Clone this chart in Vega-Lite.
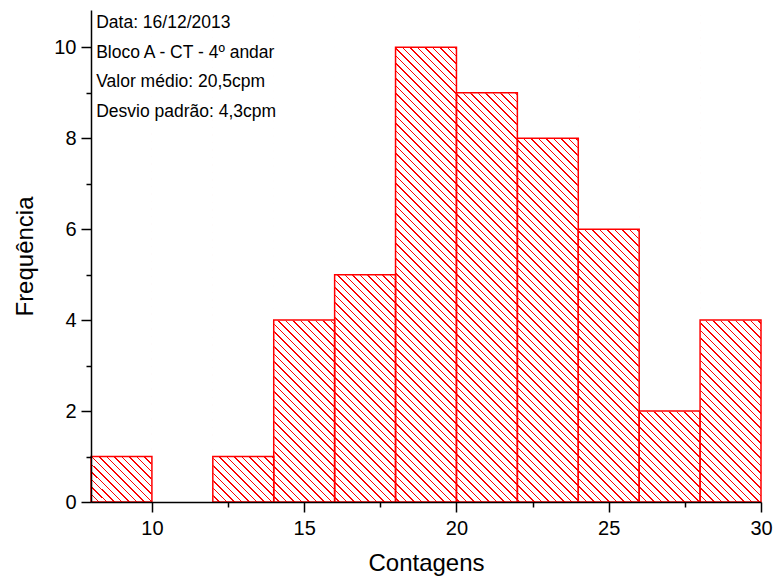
{
  "$schema": "https://vega.github.io/schema/vega-lite/v6.json",
  "width": 670,
  "height": 492,
  "autosize": {"type": "none"},
  "padding": {"left": 91, "top": 10, "right": 15, "bottom": 79},
  "background": "white",
  "config": {
    "view": {"stroke": null},
    "axis": {
      "grid": false,
      "domain": true,
      "domainColor": "black",
      "domainWidth": 1.5,
      "tickColor": "black",
      "tickWidth": 1.5,
      "labelFont": "Liberation Sans",
      "labelFontSize": 20,
      "labelColor": "black",
      "titleFont": "Liberation Sans",
      "titleFontSize": 24,
      "titleFontWeight": "normal",
      "titleColor": "black",
      "zindex": 1
    }
  },
  "datasets": {
    "bins": [
      {"bin_start": 8, "bin_end": 10, "count": 1},
      {"bin_start": 10, "bin_end": 12, "count": 0},
      {"bin_start": 12, "bin_end": 14, "count": 1},
      {"bin_start": 14, "bin_end": 16, "count": 4},
      {"bin_start": 16, "bin_end": 18, "count": 5},
      {"bin_start": 18, "bin_end": 20, "count": 10},
      {"bin_start": 20, "bin_end": 22, "count": 9},
      {"bin_start": 22, "bin_end": 24, "count": 8},
      {"bin_start": 24, "bin_end": 26, "count": 6},
      {"bin_start": 26, "bin_end": 28, "count": 2},
      {"bin_start": 28, "bin_end": 30, "count": 4}
    ]
  },
  "layer": [
    {
      "description": "Diagonal hatch pattern behind the bars (a striped linear gradient)",
      "data": {"values": [{}]},
      "mark": {
        "type": "rect",
        "clip": true,
        "stroke": null,
        "fill": {
          "gradient": "linear",
          "x1": 0, "y1": 1, "x2": 1.101672, "y2": 0.128526,
          "stops": [
            {"offset":0,"color":"#fff"},{"offset":0,"color":"#f00"},{"offset":0.00125,"color":"#f00"},{"offset":0.00125,"color":"#fff"},
            {"offset":0.00625,"color":"#fff"},{"offset":0.00625,"color":"#f00"},{"offset":0.0075,"color":"#f00"},{"offset":0.0075,"color":"#fff"},
            {"offset":0.0125,"color":"#fff"},{"offset":0.0125,"color":"#f00"},{"offset":0.01375,"color":"#f00"},{"offset":0.01375,"color":"#fff"},
            {"offset":0.01875,"color":"#fff"},{"offset":0.01875,"color":"#f00"},{"offset":0.02,"color":"#f00"},{"offset":0.02,"color":"#fff"},
            {"offset":0.025,"color":"#fff"},{"offset":0.025,"color":"#f00"},{"offset":0.02625,"color":"#f00"},{"offset":0.02625,"color":"#fff"},
            {"offset":0.03125,"color":"#fff"},{"offset":0.03125,"color":"#f00"},{"offset":0.0325,"color":"#f00"},{"offset":0.0325,"color":"#fff"},
            {"offset":0.0375,"color":"#fff"},{"offset":0.0375,"color":"#f00"},{"offset":0.03875,"color":"#f00"},{"offset":0.03875,"color":"#fff"},
            {"offset":0.04375,"color":"#fff"},{"offset":0.04375,"color":"#f00"},{"offset":0.045,"color":"#f00"},{"offset":0.045,"color":"#fff"},
            {"offset":0.05,"color":"#fff"},{"offset":0.05,"color":"#f00"},{"offset":0.05125,"color":"#f00"},{"offset":0.05125,"color":"#fff"},
            {"offset":0.05625,"color":"#fff"},{"offset":0.05625,"color":"#f00"},{"offset":0.0575,"color":"#f00"},{"offset":0.0575,"color":"#fff"},
            {"offset":0.0625,"color":"#fff"},{"offset":0.0625,"color":"#f00"},{"offset":0.06375,"color":"#f00"},{"offset":0.06375,"color":"#fff"},
            {"offset":0.06875,"color":"#fff"},{"offset":0.06875,"color":"#f00"},{"offset":0.07,"color":"#f00"},{"offset":0.07,"color":"#fff"},
            {"offset":0.075,"color":"#fff"},{"offset":0.075,"color":"#f00"},{"offset":0.07625,"color":"#f00"},{"offset":0.07625,"color":"#fff"},
            {"offset":0.08125,"color":"#fff"},{"offset":0.08125,"color":"#f00"},{"offset":0.0825,"color":"#f00"},{"offset":0.0825,"color":"#fff"},
            {"offset":0.0875,"color":"#fff"},{"offset":0.0875,"color":"#f00"},{"offset":0.08875,"color":"#f00"},{"offset":0.08875,"color":"#fff"},
            {"offset":0.09375,"color":"#fff"},{"offset":0.09375,"color":"#f00"},{"offset":0.095,"color":"#f00"},{"offset":0.095,"color":"#fff"},
            {"offset":0.1,"color":"#fff"},{"offset":0.1,"color":"#f00"},{"offset":0.10125,"color":"#f00"},{"offset":0.10125,"color":"#fff"},
            {"offset":0.10625,"color":"#fff"},{"offset":0.10625,"color":"#f00"},{"offset":0.1075,"color":"#f00"},{"offset":0.1075,"color":"#fff"},
            {"offset":0.1125,"color":"#fff"},{"offset":0.1125,"color":"#f00"},{"offset":0.11375,"color":"#f00"},{"offset":0.11375,"color":"#fff"},
            {"offset":0.11875,"color":"#fff"},{"offset":0.11875,"color":"#f00"},{"offset":0.12,"color":"#f00"},{"offset":0.12,"color":"#fff"},
            {"offset":0.125,"color":"#fff"},{"offset":0.125,"color":"#f00"},{"offset":0.12625,"color":"#f00"},{"offset":0.12625,"color":"#fff"},
            {"offset":0.13125,"color":"#fff"},{"offset":0.13125,"color":"#f00"},{"offset":0.1325,"color":"#f00"},{"offset":0.1325,"color":"#fff"},
            {"offset":0.1375,"color":"#fff"},{"offset":0.1375,"color":"#f00"},{"offset":0.13875,"color":"#f00"},{"offset":0.13875,"color":"#fff"},
            {"offset":0.14375,"color":"#fff"},{"offset":0.14375,"color":"#f00"},{"offset":0.145,"color":"#f00"},{"offset":0.145,"color":"#fff"},
            {"offset":0.15,"color":"#fff"},{"offset":0.15,"color":"#f00"},{"offset":0.15125,"color":"#f00"},{"offset":0.15125,"color":"#fff"},
            {"offset":0.15625,"color":"#fff"},{"offset":0.15625,"color":"#f00"},{"offset":0.1575,"color":"#f00"},{"offset":0.1575,"color":"#fff"},
            {"offset":0.1625,"color":"#fff"},{"offset":0.1625,"color":"#f00"},{"offset":0.16375,"color":"#f00"},{"offset":0.16375,"color":"#fff"},
            {"offset":0.16875,"color":"#fff"},{"offset":0.16875,"color":"#f00"},{"offset":0.17,"color":"#f00"},{"offset":0.17,"color":"#fff"},
            {"offset":0.175,"color":"#fff"},{"offset":0.175,"color":"#f00"},{"offset":0.17625,"color":"#f00"},{"offset":0.17625,"color":"#fff"},
            {"offset":0.18125,"color":"#fff"},{"offset":0.18125,"color":"#f00"},{"offset":0.1825,"color":"#f00"},{"offset":0.1825,"color":"#fff"},
            {"offset":0.1875,"color":"#fff"},{"offset":0.1875,"color":"#f00"},{"offset":0.18875,"color":"#f00"},{"offset":0.18875,"color":"#fff"},
            {"offset":0.19375,"color":"#fff"},{"offset":0.19375,"color":"#f00"},{"offset":0.195,"color":"#f00"},{"offset":0.195,"color":"#fff"},
            {"offset":0.2,"color":"#fff"},{"offset":0.2,"color":"#f00"},{"offset":0.20125,"color":"#f00"},{"offset":0.20125,"color":"#fff"},
            {"offset":0.20625,"color":"#fff"},{"offset":0.20625,"color":"#f00"},{"offset":0.2075,"color":"#f00"},{"offset":0.2075,"color":"#fff"},
            {"offset":0.2125,"color":"#fff"},{"offset":0.2125,"color":"#f00"},{"offset":0.21375,"color":"#f00"},{"offset":0.21375,"color":"#fff"},
            {"offset":0.21875,"color":"#fff"},{"offset":0.21875,"color":"#f00"},{"offset":0.22,"color":"#f00"},{"offset":0.22,"color":"#fff"},
            {"offset":0.225,"color":"#fff"},{"offset":0.225,"color":"#f00"},{"offset":0.22625,"color":"#f00"},{"offset":0.22625,"color":"#fff"},
            {"offset":0.23125,"color":"#fff"},{"offset":0.23125,"color":"#f00"},{"offset":0.2325,"color":"#f00"},{"offset":0.2325,"color":"#fff"},
            {"offset":0.2375,"color":"#fff"},{"offset":0.2375,"color":"#f00"},{"offset":0.23875,"color":"#f00"},{"offset":0.23875,"color":"#fff"},
            {"offset":0.24375,"color":"#fff"},{"offset":0.24375,"color":"#f00"},{"offset":0.245,"color":"#f00"},{"offset":0.245,"color":"#fff"},
            {"offset":0.25,"color":"#fff"},{"offset":0.25,"color":"#f00"},{"offset":0.25125,"color":"#f00"},{"offset":0.25125,"color":"#fff"},
            {"offset":0.25625,"color":"#fff"},{"offset":0.25625,"color":"#f00"},{"offset":0.2575,"color":"#f00"},{"offset":0.2575,"color":"#fff"},
            {"offset":0.2625,"color":"#fff"},{"offset":0.2625,"color":"#f00"},{"offset":0.26375,"color":"#f00"},{"offset":0.26375,"color":"#fff"},
            {"offset":0.26875,"color":"#fff"},{"offset":0.26875,"color":"#f00"},{"offset":0.27,"color":"#f00"},{"offset":0.27,"color":"#fff"},
            {"offset":0.275,"color":"#fff"},{"offset":0.275,"color":"#f00"},{"offset":0.27625,"color":"#f00"},{"offset":0.27625,"color":"#fff"},
            {"offset":0.28125,"color":"#fff"},{"offset":0.28125,"color":"#f00"},{"offset":0.2825,"color":"#f00"},{"offset":0.2825,"color":"#fff"},
            {"offset":0.2875,"color":"#fff"},{"offset":0.2875,"color":"#f00"},{"offset":0.28875,"color":"#f00"},{"offset":0.28875,"color":"#fff"},
            {"offset":0.29375,"color":"#fff"},{"offset":0.29375,"color":"#f00"},{"offset":0.295,"color":"#f00"},{"offset":0.295,"color":"#fff"},
            {"offset":0.3,"color":"#fff"},{"offset":0.3,"color":"#f00"},{"offset":0.30125,"color":"#f00"},{"offset":0.30125,"color":"#fff"},
            {"offset":0.30625,"color":"#fff"},{"offset":0.30625,"color":"#f00"},{"offset":0.3075,"color":"#f00"},{"offset":0.3075,"color":"#fff"},
            {"offset":0.3125,"color":"#fff"},{"offset":0.3125,"color":"#f00"},{"offset":0.31375,"color":"#f00"},{"offset":0.31375,"color":"#fff"},
            {"offset":0.31875,"color":"#fff"},{"offset":0.31875,"color":"#f00"},{"offset":0.32,"color":"#f00"},{"offset":0.32,"color":"#fff"},
            {"offset":0.325,"color":"#fff"},{"offset":0.325,"color":"#f00"},{"offset":0.32625,"color":"#f00"},{"offset":0.32625,"color":"#fff"},
            {"offset":0.33125,"color":"#fff"},{"offset":0.33125,"color":"#f00"},{"offset":0.3325,"color":"#f00"},{"offset":0.3325,"color":"#fff"},
            {"offset":0.3375,"color":"#fff"},{"offset":0.3375,"color":"#f00"},{"offset":0.33875,"color":"#f00"},{"offset":0.33875,"color":"#fff"},
            {"offset":0.34375,"color":"#fff"},{"offset":0.34375,"color":"#f00"},{"offset":0.345,"color":"#f00"},{"offset":0.345,"color":"#fff"},
            {"offset":0.35,"color":"#fff"},{"offset":0.35,"color":"#f00"},{"offset":0.35125,"color":"#f00"},{"offset":0.35125,"color":"#fff"},
            {"offset":0.35625,"color":"#fff"},{"offset":0.35625,"color":"#f00"},{"offset":0.3575,"color":"#f00"},{"offset":0.3575,"color":"#fff"},
            {"offset":0.3625,"color":"#fff"},{"offset":0.3625,"color":"#f00"},{"offset":0.36375,"color":"#f00"},{"offset":0.36375,"color":"#fff"},
            {"offset":0.36875,"color":"#fff"},{"offset":0.36875,"color":"#f00"},{"offset":0.37,"color":"#f00"},{"offset":0.37,"color":"#fff"},
            {"offset":0.375,"color":"#fff"},{"offset":0.375,"color":"#f00"},{"offset":0.37625,"color":"#f00"},{"offset":0.37625,"color":"#fff"},
            {"offset":0.38125,"color":"#fff"},{"offset":0.38125,"color":"#f00"},{"offset":0.3825,"color":"#f00"},{"offset":0.3825,"color":"#fff"},
            {"offset":0.3875,"color":"#fff"},{"offset":0.3875,"color":"#f00"},{"offset":0.38875,"color":"#f00"},{"offset":0.38875,"color":"#fff"},
            {"offset":0.39375,"color":"#fff"},{"offset":0.39375,"color":"#f00"},{"offset":0.395,"color":"#f00"},{"offset":0.395,"color":"#fff"},
            {"offset":0.4,"color":"#fff"},{"offset":0.4,"color":"#f00"},{"offset":0.40125,"color":"#f00"},{"offset":0.40125,"color":"#fff"},
            {"offset":0.40625,"color":"#fff"},{"offset":0.40625,"color":"#f00"},{"offset":0.4075,"color":"#f00"},{"offset":0.4075,"color":"#fff"},
            {"offset":0.4125,"color":"#fff"},{"offset":0.4125,"color":"#f00"},{"offset":0.41375,"color":"#f00"},{"offset":0.41375,"color":"#fff"},
            {"offset":0.41875,"color":"#fff"},{"offset":0.41875,"color":"#f00"},{"offset":0.42,"color":"#f00"},{"offset":0.42,"color":"#fff"},
            {"offset":0.425,"color":"#fff"},{"offset":0.425,"color":"#f00"},{"offset":0.42625,"color":"#f00"},{"offset":0.42625,"color":"#fff"},
            {"offset":0.43125,"color":"#fff"},{"offset":0.43125,"color":"#f00"},{"offset":0.4325,"color":"#f00"},{"offset":0.4325,"color":"#fff"},
            {"offset":0.4375,"color":"#fff"},{"offset":0.4375,"color":"#f00"},{"offset":0.43875,"color":"#f00"},{"offset":0.43875,"color":"#fff"},
            {"offset":0.44375,"color":"#fff"},{"offset":0.44375,"color":"#f00"},{"offset":0.445,"color":"#f00"},{"offset":0.445,"color":"#fff"},
            {"offset":0.45,"color":"#fff"},{"offset":0.45,"color":"#f00"},{"offset":0.45125,"color":"#f00"},{"offset":0.45125,"color":"#fff"},
            {"offset":0.45625,"color":"#fff"},{"offset":0.45625,"color":"#f00"},{"offset":0.4575,"color":"#f00"},{"offset":0.4575,"color":"#fff"},
            {"offset":0.4625,"color":"#fff"},{"offset":0.4625,"color":"#f00"},{"offset":0.46375,"color":"#f00"},{"offset":0.46375,"color":"#fff"},
            {"offset":0.46875,"color":"#fff"},{"offset":0.46875,"color":"#f00"},{"offset":0.47,"color":"#f00"},{"offset":0.47,"color":"#fff"},
            {"offset":0.475,"color":"#fff"},{"offset":0.475,"color":"#f00"},{"offset":0.47625,"color":"#f00"},{"offset":0.47625,"color":"#fff"},
            {"offset":0.48125,"color":"#fff"},{"offset":0.48125,"color":"#f00"},{"offset":0.4825,"color":"#f00"},{"offset":0.4825,"color":"#fff"},
            {"offset":0.4875,"color":"#fff"},{"offset":0.4875,"color":"#f00"},{"offset":0.48875,"color":"#f00"},{"offset":0.48875,"color":"#fff"},
            {"offset":0.49375,"color":"#fff"},{"offset":0.49375,"color":"#f00"},{"offset":0.495,"color":"#f00"},{"offset":0.495,"color":"#fff"},
            {"offset":0.5,"color":"#fff"},{"offset":0.5,"color":"#f00"},{"offset":0.50125,"color":"#f00"},{"offset":0.50125,"color":"#fff"},
            {"offset":0.50625,"color":"#fff"},{"offset":0.50625,"color":"#f00"},{"offset":0.5075,"color":"#f00"},{"offset":0.5075,"color":"#fff"},
            {"offset":0.5125,"color":"#fff"},{"offset":0.5125,"color":"#f00"},{"offset":0.51375,"color":"#f00"},{"offset":0.51375,"color":"#fff"},
            {"offset":0.51875,"color":"#fff"},{"offset":0.51875,"color":"#f00"},{"offset":0.52,"color":"#f00"},{"offset":0.52,"color":"#fff"},
            {"offset":0.525,"color":"#fff"},{"offset":0.525,"color":"#f00"},{"offset":0.52625,"color":"#f00"},{"offset":0.52625,"color":"#fff"},
            {"offset":0.53125,"color":"#fff"},{"offset":0.53125,"color":"#f00"},{"offset":0.5325,"color":"#f00"},{"offset":0.5325,"color":"#fff"},
            {"offset":0.5375,"color":"#fff"},{"offset":0.5375,"color":"#f00"},{"offset":0.53875,"color":"#f00"},{"offset":0.53875,"color":"#fff"},
            {"offset":0.54375,"color":"#fff"},{"offset":0.54375,"color":"#f00"},{"offset":0.545,"color":"#f00"},{"offset":0.545,"color":"#fff"},
            {"offset":0.55,"color":"#fff"},{"offset":0.55,"color":"#f00"},{"offset":0.55125,"color":"#f00"},{"offset":0.55125,"color":"#fff"},
            {"offset":0.55625,"color":"#fff"},{"offset":0.55625,"color":"#f00"},{"offset":0.5575,"color":"#f00"},{"offset":0.5575,"color":"#fff"},
            {"offset":0.5625,"color":"#fff"},{"offset":0.5625,"color":"#f00"},{"offset":0.56375,"color":"#f00"},{"offset":0.56375,"color":"#fff"},
            {"offset":0.56875,"color":"#fff"},{"offset":0.56875,"color":"#f00"},{"offset":0.57,"color":"#f00"},{"offset":0.57,"color":"#fff"},
            {"offset":0.575,"color":"#fff"},{"offset":0.575,"color":"#f00"},{"offset":0.57625,"color":"#f00"},{"offset":0.57625,"color":"#fff"},
            {"offset":0.58125,"color":"#fff"},{"offset":0.58125,"color":"#f00"},{"offset":0.5825,"color":"#f00"},{"offset":0.5825,"color":"#fff"},
            {"offset":0.5875,"color":"#fff"},{"offset":0.5875,"color":"#f00"},{"offset":0.58875,"color":"#f00"},{"offset":0.58875,"color":"#fff"},
            {"offset":0.59375,"color":"#fff"},{"offset":0.59375,"color":"#f00"},{"offset":0.595,"color":"#f00"},{"offset":0.595,"color":"#fff"},
            {"offset":0.6,"color":"#fff"},{"offset":0.6,"color":"#f00"},{"offset":0.60125,"color":"#f00"},{"offset":0.60125,"color":"#fff"},
            {"offset":0.60625,"color":"#fff"},{"offset":0.60625,"color":"#f00"},{"offset":0.6075,"color":"#f00"},{"offset":0.6075,"color":"#fff"},
            {"offset":0.6125,"color":"#fff"},{"offset":0.6125,"color":"#f00"},{"offset":0.61375,"color":"#f00"},{"offset":0.61375,"color":"#fff"},
            {"offset":0.61875,"color":"#fff"},{"offset":0.61875,"color":"#f00"},{"offset":0.62,"color":"#f00"},{"offset":0.62,"color":"#fff"},
            {"offset":0.625,"color":"#fff"},{"offset":0.625,"color":"#f00"},{"offset":0.62625,"color":"#f00"},{"offset":0.62625,"color":"#fff"},
            {"offset":0.63125,"color":"#fff"},{"offset":0.63125,"color":"#f00"},{"offset":0.6325,"color":"#f00"},{"offset":0.6325,"color":"#fff"},
            {"offset":0.6375,"color":"#fff"},{"offset":0.6375,"color":"#f00"},{"offset":0.63875,"color":"#f00"},{"offset":0.63875,"color":"#fff"},
            {"offset":0.64375,"color":"#fff"},{"offset":0.64375,"color":"#f00"},{"offset":0.645,"color":"#f00"},{"offset":0.645,"color":"#fff"},
            {"offset":0.65,"color":"#fff"},{"offset":0.65,"color":"#f00"},{"offset":0.65125,"color":"#f00"},{"offset":0.65125,"color":"#fff"},
            {"offset":0.65625,"color":"#fff"},{"offset":0.65625,"color":"#f00"},{"offset":0.6575,"color":"#f00"},{"offset":0.6575,"color":"#fff"},
            {"offset":0.6625,"color":"#fff"},{"offset":0.6625,"color":"#f00"},{"offset":0.66375,"color":"#f00"},{"offset":0.66375,"color":"#fff"},
            {"offset":0.66875,"color":"#fff"},{"offset":0.66875,"color":"#f00"},{"offset":0.67,"color":"#f00"},{"offset":0.67,"color":"#fff"},
            {"offset":0.675,"color":"#fff"},{"offset":0.675,"color":"#f00"},{"offset":0.67625,"color":"#f00"},{"offset":0.67625,"color":"#fff"},
            {"offset":0.68125,"color":"#fff"},{"offset":0.68125,"color":"#f00"},{"offset":0.6825,"color":"#f00"},{"offset":0.6825,"color":"#fff"},
            {"offset":0.6875,"color":"#fff"},{"offset":0.6875,"color":"#f00"},{"offset":0.68875,"color":"#f00"},{"offset":0.68875,"color":"#fff"},
            {"offset":0.69375,"color":"#fff"},{"offset":0.69375,"color":"#f00"},{"offset":0.695,"color":"#f00"},{"offset":0.695,"color":"#fff"},
            {"offset":0.7,"color":"#fff"},{"offset":0.7,"color":"#f00"},{"offset":0.70125,"color":"#f00"},{"offset":0.70125,"color":"#fff"},
            {"offset":0.70625,"color":"#fff"},{"offset":0.70625,"color":"#f00"},{"offset":0.7075,"color":"#f00"},{"offset":0.7075,"color":"#fff"},
            {"offset":0.7125,"color":"#fff"},{"offset":0.7125,"color":"#f00"},{"offset":0.71375,"color":"#f00"},{"offset":0.71375,"color":"#fff"},
            {"offset":0.71875,"color":"#fff"},{"offset":0.71875,"color":"#f00"},{"offset":0.72,"color":"#f00"},{"offset":0.72,"color":"#fff"},
            {"offset":0.725,"color":"#fff"},{"offset":0.725,"color":"#f00"},{"offset":0.72625,"color":"#f00"},{"offset":0.72625,"color":"#fff"},
            {"offset":0.73125,"color":"#fff"},{"offset":0.73125,"color":"#f00"},{"offset":0.7325,"color":"#f00"},{"offset":0.7325,"color":"#fff"},
            {"offset":0.7375,"color":"#fff"},{"offset":0.7375,"color":"#f00"},{"offset":0.73875,"color":"#f00"},{"offset":0.73875,"color":"#fff"},
            {"offset":0.74375,"color":"#fff"},{"offset":0.74375,"color":"#f00"},{"offset":0.745,"color":"#f00"},{"offset":0.745,"color":"#fff"},
            {"offset":0.75,"color":"#fff"},{"offset":0.75,"color":"#f00"},{"offset":0.75125,"color":"#f00"},{"offset":0.75125,"color":"#fff"},
            {"offset":0.75625,"color":"#fff"},{"offset":0.75625,"color":"#f00"},{"offset":0.7575,"color":"#f00"},{"offset":0.7575,"color":"#fff"},
            {"offset":0.7625,"color":"#fff"},{"offset":0.7625,"color":"#f00"},{"offset":0.76375,"color":"#f00"},{"offset":0.76375,"color":"#fff"},
            {"offset":0.76875,"color":"#fff"},{"offset":0.76875,"color":"#f00"},{"offset":0.77,"color":"#f00"},{"offset":0.77,"color":"#fff"},
            {"offset":0.775,"color":"#fff"},{"offset":0.775,"color":"#f00"},{"offset":0.77625,"color":"#f00"},{"offset":0.77625,"color":"#fff"},
            {"offset":0.78125,"color":"#fff"},{"offset":0.78125,"color":"#f00"},{"offset":0.7825,"color":"#f00"},{"offset":0.7825,"color":"#fff"},
            {"offset":0.7875,"color":"#fff"},{"offset":0.7875,"color":"#f00"},{"offset":0.78875,"color":"#f00"},{"offset":0.78875,"color":"#fff"},
            {"offset":0.79375,"color":"#fff"},{"offset":0.79375,"color":"#f00"},{"offset":0.795,"color":"#f00"},{"offset":0.795,"color":"#fff"},
            {"offset":0.8,"color":"#fff"},{"offset":0.8,"color":"#f00"},{"offset":0.80125,"color":"#f00"},{"offset":0.80125,"color":"#fff"},
            {"offset":0.80625,"color":"#fff"},{"offset":0.80625,"color":"#f00"},{"offset":0.8075,"color":"#f00"},{"offset":0.8075,"color":"#fff"},
            {"offset":0.8125,"color":"#fff"},{"offset":0.8125,"color":"#f00"},{"offset":0.81375,"color":"#f00"},{"offset":0.81375,"color":"#fff"},
            {"offset":0.81875,"color":"#fff"},{"offset":0.81875,"color":"#f00"},{"offset":0.82,"color":"#f00"},{"offset":0.82,"color":"#fff"},
            {"offset":0.825,"color":"#fff"},{"offset":0.825,"color":"#f00"},{"offset":0.82625,"color":"#f00"},{"offset":0.82625,"color":"#fff"},
            {"offset":0.83125,"color":"#fff"},{"offset":0.83125,"color":"#f00"},{"offset":0.8325,"color":"#f00"},{"offset":0.8325,"color":"#fff"},
            {"offset":0.8375,"color":"#fff"},{"offset":0.8375,"color":"#f00"},{"offset":0.83875,"color":"#f00"},{"offset":0.83875,"color":"#fff"},
            {"offset":0.84375,"color":"#fff"},{"offset":0.84375,"color":"#f00"},{"offset":0.845,"color":"#f00"},{"offset":0.845,"color":"#fff"},
            {"offset":0.85,"color":"#fff"},{"offset":0.85,"color":"#f00"},{"offset":0.85125,"color":"#f00"},{"offset":0.85125,"color":"#fff"},
            {"offset":0.85625,"color":"#fff"},{"offset":0.85625,"color":"#f00"},{"offset":0.8575,"color":"#f00"},{"offset":0.8575,"color":"#fff"},
            {"offset":0.8625,"color":"#fff"},{"offset":0.8625,"color":"#f00"},{"offset":0.86375,"color":"#f00"},{"offset":0.86375,"color":"#fff"},
            {"offset":0.86875,"color":"#fff"},{"offset":0.86875,"color":"#f00"},{"offset":0.87,"color":"#f00"},{"offset":0.87,"color":"#fff"},
            {"offset":0.875,"color":"#fff"},{"offset":0.875,"color":"#f00"},{"offset":0.87625,"color":"#f00"},{"offset":0.87625,"color":"#fff"},
            {"offset":0.88125,"color":"#fff"},{"offset":0.88125,"color":"#f00"},{"offset":0.8825,"color":"#f00"},{"offset":0.8825,"color":"#fff"},
            {"offset":0.8875,"color":"#fff"},{"offset":0.8875,"color":"#f00"},{"offset":0.88875,"color":"#f00"},{"offset":0.88875,"color":"#fff"},
            {"offset":0.89375,"color":"#fff"},{"offset":0.89375,"color":"#f00"},{"offset":0.895,"color":"#f00"},{"offset":0.895,"color":"#fff"},
            {"offset":0.9,"color":"#fff"},{"offset":0.9,"color":"#f00"},{"offset":0.90125,"color":"#f00"},{"offset":0.90125,"color":"#fff"},
            {"offset":0.90625,"color":"#fff"},{"offset":0.90625,"color":"#f00"},{"offset":0.9075,"color":"#f00"},{"offset":0.9075,"color":"#fff"},
            {"offset":0.9125,"color":"#fff"},{"offset":0.9125,"color":"#f00"},{"offset":0.91375,"color":"#f00"},{"offset":0.91375,"color":"#fff"},
            {"offset":0.91875,"color":"#fff"},{"offset":0.91875,"color":"#f00"},{"offset":0.92,"color":"#f00"},{"offset":0.92,"color":"#fff"},
            {"offset":0.925,"color":"#fff"},{"offset":0.925,"color":"#f00"},{"offset":0.92625,"color":"#f00"},{"offset":0.92625,"color":"#fff"},
            {"offset":0.93125,"color":"#fff"},{"offset":0.93125,"color":"#f00"},{"offset":0.9325,"color":"#f00"},{"offset":0.9325,"color":"#fff"},
            {"offset":0.9375,"color":"#fff"},{"offset":0.9375,"color":"#f00"},{"offset":0.93875,"color":"#f00"},{"offset":0.93875,"color":"#fff"},
            {"offset":0.94375,"color":"#fff"},{"offset":0.94375,"color":"#f00"},{"offset":0.945,"color":"#f00"},{"offset":0.945,"color":"#fff"},
            {"offset":0.95,"color":"#fff"},{"offset":0.95,"color":"#f00"},{"offset":0.95125,"color":"#f00"},{"offset":0.95125,"color":"#fff"},
            {"offset":0.95625,"color":"#fff"},{"offset":0.95625,"color":"#f00"},{"offset":0.9575,"color":"#f00"},{"offset":0.9575,"color":"#fff"},
            {"offset":0.9625,"color":"#fff"},{"offset":0.9625,"color":"#f00"},{"offset":0.96375,"color":"#f00"},{"offset":0.96375,"color":"#fff"},
            {"offset":0.96875,"color":"#fff"},{"offset":0.96875,"color":"#f00"},{"offset":0.97,"color":"#f00"},{"offset":0.97,"color":"#fff"},
            {"offset":0.975,"color":"#fff"},{"offset":0.975,"color":"#f00"},{"offset":0.97625,"color":"#f00"},{"offset":0.97625,"color":"#fff"},
            {"offset":0.98125,"color":"#fff"},{"offset":0.98125,"color":"#f00"},{"offset":0.9825,"color":"#f00"},{"offset":0.9825,"color":"#fff"},
            {"offset":0.9875,"color":"#fff"},{"offset":0.9875,"color":"#f00"},{"offset":0.98875,"color":"#f00"},{"offset":0.98875,"color":"#fff"},
            {"offset":0.99375,"color":"#fff"},{"offset":0.99375,"color":"#f00"},{"offset":0.995,"color":"#f00"},{"offset":0.995,"color":"#fff"}
          ]
        }
      },
      "encoding": {
        "x": {
          "datum": 8,
          "type": "quantitative",
          "title": "Contagens",
          "scale": {"domain": [8, 30], "nice": false, "zero": false},
          "axis": {
            "domain": true,
            "zindex": 1,
            "values": [10, 12.5, 15, 17.5, 20, 22.5, 25, 27.5, 30],
            "labelExpr": "datum.value % 5 === 0 ? datum.label : ''",
            "tickSize": {"condition": {"test": "datum.value % 5 === 0", "value": 10}, "value": 5},
            "labelPadding": 6,
            "labelFlush": false,
            "labelOverlap": false,
            "titlePadding": 13
          }
        },
        "x2": {"datum": 30},
        "y": {
          "datum": 0,
          "type": "quantitative",
          "title": "Frequência",
          "scale": {"domain": [0, 10.82], "nice": false, "zero": true},
          "axis": {
            "domain": true,
            "zindex": 1,
            "values": [0, 1, 2, 3, 4, 5, 6, 7, 8, 9, 10],
            "labelExpr": "datum.value % 2 === 0 ? datum.label : ''",
            "tickSize": {"condition": {"test": "datum.value % 2 === 0", "value": 10}, "value": 5},
            "labelPadding": 5,
            "labelFlush": false,
            "labelOverlap": false,
            "titlePadding": 16
          }
        },
        "y2": {"datum": 11.6557}
      }
    },
    {
      "description": "White masks above each bar hide the hatch outside the bars",
      "data": {"name": "bins"},
      "mark": {"type": "rect", "fill": "white", "stroke": "white", "strokeWidth": 1},
      "encoding": {
        "x": {"field": "bin_start", "type": "quantitative", "title": "Contagens"},
        "x2": {"field": "bin_end"},
        "y": {"field": "count", "type": "quantitative", "title": "Frequência"},
        "y2": {"datum": 10.82}
      }
    },
    {
      "description": "Bar outlines",
      "data": {"name": "bins"},
      "transform": [{"filter": "datum.count > 0"}],
      "mark": {"type": "rect", "fill": "white", "fillOpacity": 0, "stroke": "#ff0000", "strokeWidth": 1.5},
      "encoding": {
        "x": {"field": "bin_start", "type": "quantitative", "title": "Contagens"},
        "x2": {"field": "bin_end"},
        "y": {"field": "count", "type": "quantitative", "title": "Frequência"},
        "y2": {"datum": 0}
      }
    },
    {
      "description": "Measurement notes",
      "data": {"values": [{}]},
      "mark": {
        "type": "text",
        "text": ["Data: 16/12/2013", "Bloco A - CT - 4º andar", "Valor médio: 20,5cpm", "Desvio padrão: 4,3cpm"],
        "align": "left",
        "baseline": "alphabetic",
        "font": "Liberation Sans",
        "fontSize": 17.5,
        "lineHeight": 29.6,
        "color": "black"
      },
      "encoding": {
        "x": {"datum": 8.17, "type": "quantitative"},
        "y": {"datum": 10.418, "type": "quantitative"}
      }
    }
  ]
}
